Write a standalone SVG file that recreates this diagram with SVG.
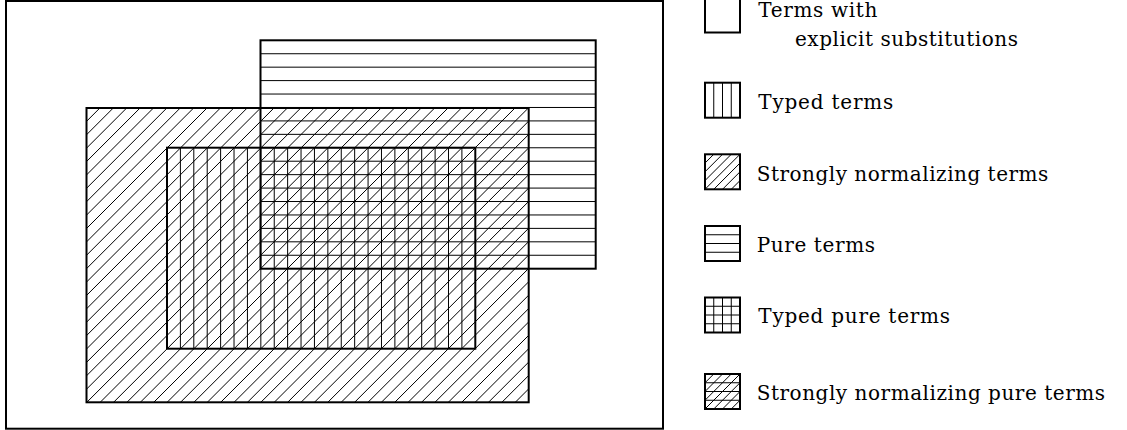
<svg xmlns="http://www.w3.org/2000/svg" xmlns:xlink="http://www.w3.org/1999/xlink" width="1127" height="430" viewBox="0 0 1127 430">
<style>
.frame{fill:none;stroke:#000;stroke-width:2}
.hatch{fill:none;stroke:#000;stroke-width:1}
text{font-family:"DejaVu Serif","Liberation Serif",serif;font-size:20px;fill:#000}
</style>
<defs>
<clipPath id="snClip"><rect x="86.5" y="108" width="442.2" height="294.3"/></clipPath>
<clipPath id="iconClip"><rect x="0" y="0" width="35" height="35"/></clipPath>
<path id="vlines" class="hatch" d="M8.75,0v35M17.5,0v35M26.25,0v35"/>
<path id="hlines" class="hatch" d="M0,8.75h35M0,17.5h35M0,26.25h35"/>
<path id="dlines" class="hatch" clip-path="url(#iconClip)" d="M-5,31.25L31.25,-5M-5,22.5L22.5,-5M-5,13.75L13.75,-5M-5,40L40,-5M3.75,40L40,3.75M12.5,40L40,12.5M21.25,40L40,21.25"/>
</defs>
<rect width="1127" height="430" fill="#fff"/>

<g id="hatching">
<path id="sn-hatch" class="hatch" clip-path="url(#snClip)" d="M-212.11,420l320,-320
m-306.61,320l320,-320m-306.61,320l320,-320m-306.61,320l320,-320m-306.61,320l320,-320m-306.61,320l320,-320
m-306.61,320l320,-320m-306.61,320l320,-320m-306.61,320l320,-320m-306.61,320l320,-320m-306.61,320l320,-320
m-306.61,320l320,-320m-306.61,320l320,-320m-306.61,320l320,-320m-306.61,320l320,-320m-306.61,320l320,-320
m-306.61,320l320,-320m-306.61,320l320,-320m-306.61,320l320,-320m-306.61,320l320,-320m-306.61,320l320,-320
m-306.61,320l320,-320m-306.61,320l320,-320m-306.61,320l320,-320m-306.61,320l320,-320m-306.61,320l320,-320
m-306.61,320l320,-320m-306.61,320l320,-320m-306.61,320l320,-320m-306.61,320l320,-320m-306.61,320l320,-320
m-306.61,320l320,-320m-306.61,320l320,-320m-306.61,320l320,-320m-306.61,320l320,-320m-306.61,320l320,-320
m-306.61,320l320,-320m-306.61,320l320,-320m-306.61,320l320,-320m-306.61,320l320,-320m-306.61,320l320,-320
m-306.61,320l320,-320m-306.61,320l320,-320m-306.61,320l320,-320m-306.61,320l320,-320m-306.61,320l320,-320
m-306.61,320l320,-320m-306.61,320l320,-320m-306.61,320l320,-320m-306.61,320l320,-320m-306.61,320l320,-320
m-306.61,320l320,-320m-306.61,320l320,-320m-306.61,320l320,-320"/>
<path id="typed-hatch" class="hatch" d="M180.4,147.7v201
m13.405,-201v201m13.405,-201v201m13.405,-201v201m13.405,-201v201m13.405,-201v201
m13.405,-201v201m13.405,-201v201m13.405,-201v201m13.405,-201v201m13.405,-201v201
m13.405,-201v201m13.405,-201v201m13.405,-201v201m13.405,-201v201m13.405,-201v201
m13.405,-201v201m13.405,-201v201m13.405,-201v201m13.405,-201v201m13.405,-201v201
m13.405,-201v201"/>
<path id="pure-hatch" class="hatch" d="M260.5,53.735h335.2
m-335.2,13.435h335.2m-335.2,13.435h335.2m-335.2,13.435h335.2m-335.2,13.435h335.2m-335.2,13.435h335.2
m-335.2,13.435h335.2m-335.2,13.435h335.2m-335.2,13.435h335.2m-335.2,13.435h335.2m-335.2,13.435h335.2
m-335.2,13.435h335.2m-335.2,13.435h335.2m-335.2,13.435h335.2m-335.2,13.435h335.2m-335.2,13.435h335.2"/>
</g>

<g id="explicit-substitutions"><rect class="frame" x="6" y="1" width="657" height="427.7"/></g>
<g id="strongly-normalizing"><rect class="frame" x="86.5" y="108" width="442.2" height="294.3"/></g>
<g id="typed"><rect class="frame" x="167" y="147.7" width="308.3" height="201"/></g>
<g id="pure"><rect class="frame" x="260.5" y="40.3" width="335.2" height="228.4"/></g>

<g id="legend">
<g id="leg-explicit">
<rect class="frame" x="705" y="-2.5" width="35" height="35"/>
<text x="758.3" y="16.5" textLength="119" lengthAdjust="spacing">Terms with</text>
<text x="795" y="45.7" textLength="223" lengthAdjust="spacing">explicit substitutions</text>
</g>
<g id="leg-typed">
<use xlink:href="#vlines" x="705" y="82.7"/>
<rect class="frame" x="705" y="82.7" width="35" height="35"/>
<text x="758.3" y="109.3" textLength="135" lengthAdjust="spacing">Typed terms</text>
</g>
<g id="leg-sn">
<use xlink:href="#dlines" x="705" y="154.3"/>
<rect class="frame" x="705" y="154.3" width="35" height="35"/>
<text x="756.7" y="180.7" textLength="291.6" lengthAdjust="spacing">Strongly normalizing terms</text>
</g>
<g id="leg-pure">
<use xlink:href="#hlines" x="705" y="226"/>
<rect class="frame" x="705" y="226" width="35" height="35"/>
<text x="756.7" y="251.7" textLength="118.3" lengthAdjust="spacing">Pure terms</text>
</g>
<g id="leg-typed-pure">
<use xlink:href="#vlines" x="705" y="297.5"/>
<use xlink:href="#hlines" x="705" y="297.5"/>
<rect class="frame" x="705" y="297.5" width="35" height="35"/>
<text x="758.3" y="323.3" textLength="191.7" lengthAdjust="spacing">Typed pure terms</text>
</g>
<g id="leg-sn-pure">
<use xlink:href="#dlines" x="705" y="374"/>
<use xlink:href="#hlines" x="705" y="374"/>
<rect class="frame" x="705" y="374" width="35" height="35"/>
<text x="756.7" y="400" textLength="348.3" lengthAdjust="spacing">Strongly normalizing pure terms</text>
</g>
</g>
</svg>
